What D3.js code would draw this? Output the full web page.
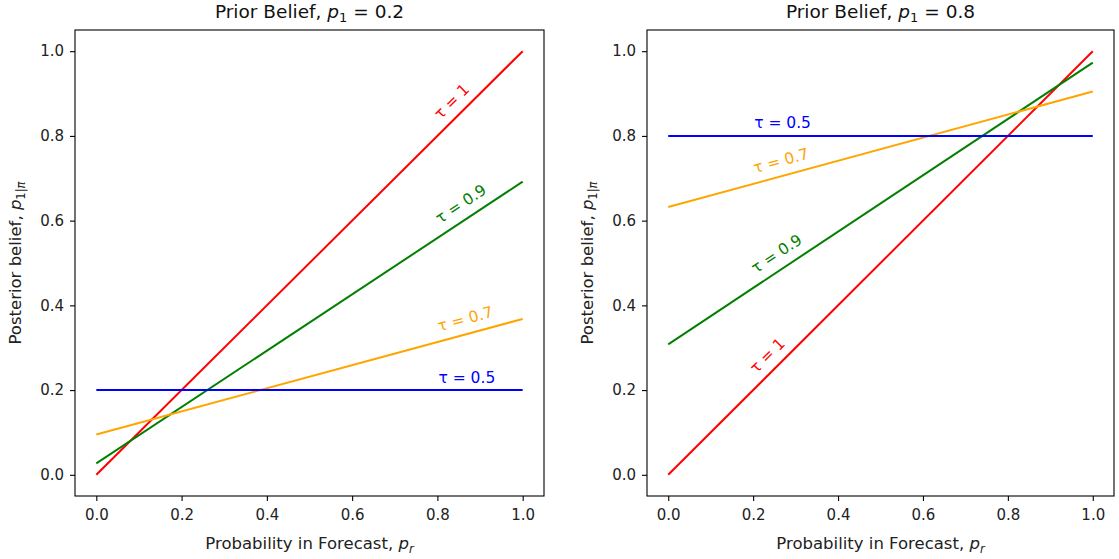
<!DOCTYPE html>
<html>
<head>
<meta charset="utf-8">
<script src="https://cdn.jsdelivr.net/npm/d3@7"></script>
<style>
  body { margin: 0; background: #fff; }
  svg { display: block; font-family: "DejaVu Sans", sans-serif; }
</style>
</head>
<body>
<svg id="chart" width="1119" height="559"></svg>
<script>
// forecast probability (x) at the two ends of each line
var pr = [0, 1];

var tauLabels = ["1", "0.9", "0.7", "0.5"];
var tauColors = ["red", "green", "orange", "blue"];

// posterior belief at pr = 0 and pr = 1, prior p1 = 0.2
var postLow = [
    [0, 1],
    [0.027, 0.692],
    [0.095, 0.368],
    [0.2, 0.2]
];

// posterior belief at pr = 0 and pr = 1, prior p1 = 0.8
var postHigh = [
    [0, 1],
    [0.308, 0.973],
    [0.632, 0.905],
    [0.8, 0.8]
];

var priors = ["0.2", "0.8"];
var tickVals = [0, 0.2, 0.4, 0.6, 0.8, 1.0];

var svg = d3.select("#chart");

var panels = [
    { left: 75, right: 544, series: postLow, prior: priors[0], labelAt: 0.8, ylabX: 21 },
    { left: 647, right: 1114, series: postHigh, prior: priors[1], labelAt: 0.2, ylabX: 593 }
];
var plotTop = 30, plotBottom = 496;

panels.forEach(function(p) {
    var x = d3.scaleLinear().domain([-0.05, 1.05]).range([p.left, p.right]);
    var y = d3.scaleLinear().domain([-0.05, 1.05]).range([plotBottom, plotTop]);
    var g = svg.append("g");

    // lines
    var line = d3.line()
        .x(function(d, i) { return x(pr[i]); })
        .y(function(d) { return y(d); });

    g.selectAll("path.series")
        .data(p.series)
        .enter().append("path")
        .attr("class", "series")
        .attr("d", line)
        .attr("fill", "none")
        .attr("stroke", function(d, i) { return tauColors[i]; })
        .attr("stroke-width", 2);

    // tau labels, sitting just above each line, turned along it
    p.series.forEach(function(d, i) {
        var dx = x(pr[1]) - x(pr[0]);
        var dy = y(d[0]) - y(d[1]);
        var ang = Math.atan2(dy, dx);
        var s = Math.sin(ang);
        var v = d[0] + (d[1] - d[0]) * p.labelAt;
        var bx = x(p.labelAt) + 1 - 8 * s + 11 * s;
        var by = y(v) - 7.5 - 12 * s;
        var t = g.append("text")
            .attr("transform", "translate(" + bx + "," + by + ") rotate(" + (-ang * 180 / Math.PI) + ")")
            .attr("fill", tauColors[i])
            .style("font-size", "15.5px");
        t.append("tspan").text("\u03c4");
        t.append("tspan").text(" = " + tauLabels[i]);
    });

    // frame
    g.append("rect")
        .attr("x", p.left)
        .attr("y", plotTop)
        .attr("width", p.right - p.left)
        .attr("height", plotBottom - plotTop)
        .attr("fill", "none")
        .attr("stroke", "#000")
        .attr("stroke-width", 1.1);

    // axes
    var xAxis = d3.axisBottom(x).tickValues(tickVals).tickFormat(d3.format(".1f")).tickSize(5).tickPadding(8);
    var yAxis = d3.axisLeft(y).tickValues(tickVals).tickFormat(d3.format(".1f")).tickSize(5).tickPadding(6);

    var gx = g.append("g").attr("transform", "translate(0," + plotBottom + ")").call(xAxis);
    var gy = g.append("g").attr("transform", "translate(" + p.left + ",0)").call(yAxis);
    [gx, gy].forEach(function(a) {
        a.select(".domain").remove();
        a.selectAll(".tick line").attr("stroke", "#000").attr("stroke-width", 1.1);
        a.selectAll(".tick text").attr("fill", "#222").style("font-size", "15px").style("font-family", "DejaVu Sans");
    });

    var cx = (p.left + p.right) / 2;

    // title
    var ti = g.append("text")
        .attr("x", cx)
        .attr("y", 18)
        .attr("text-anchor", "middle")
        .attr("fill", "#111")
        .style("font-size", "18.5px");
    ti.append("tspan").text("Prior Belief, ");
    ti.append("tspan").style("font-style", "italic").text("p");
    ti.append("tspan").attr("dy", 4).style("font-size", "13px").text("1");
    ti.append("tspan").attr("dy", -4).text(" = " + p.prior);

    // x label
    var xl = g.append("text")
        .attr("x", cx)
        .attr("y", 549)
        .attr("text-anchor", "middle")
        .attr("fill", "#222")
        .style("font-size", "16.5px");
    xl.append("tspan").text("Probability in Forecast, ");
    xl.append("tspan").style("font-style", "italic").text("p");
    xl.append("tspan").attr("dy", 4).style("font-size", "11.5px").style("font-style", "italic").text("r");

    // y label
    var yl = g.append("text")
        .attr("transform", "translate(" + p.ylabX + "," + ((plotTop + plotBottom) / 2) + ") rotate(-90)")
        .attr("text-anchor", "middle")
        .attr("fill", "#222")
        .style("font-size", "16.5px");
    yl.append("tspan").text("Posterior belief, ");
    yl.append("tspan").style("font-style", "italic").text("p");
    yl.append("tspan").attr("dy", 4).style("font-size", "11.5px").text("1|");
    yl.append("tspan").style("font-size", "11.5px").style("font-style", "italic").text("\u03c0");
});
</script>
</body>
</html>
